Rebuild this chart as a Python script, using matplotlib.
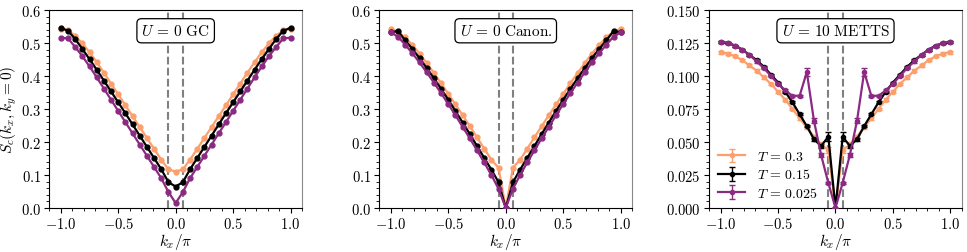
import matplotlib
matplotlib.use("Agg")
import matplotlib.pyplot as plt
import numpy as np
from matplotlib.ticker import MultipleLocator, FuncFormatter

plt.rcParams['mathtext.fontset'] = 'cm'
plt.rcParams['font.family'] = 'serif'
plt.rcParams['font.serif'] = ['DejaVu Serif']

# momentum grid k_x / pi (33 points, step 1/16)
kx = np.linspace(-1, 1, 33)

# U = 0 grand canonical
gc_T03 = [0.543, 0.538, 0.522, 0.499, 0.472, 0.442, 0.410, 0.377, 0.344, 0.311, 0.278, 0.245, 0.212, 0.179, 0.146, 0.117, 0.110,
          0.117, 0.146, 0.179, 0.212, 0.245, 0.278, 0.311, 0.344, 0.377, 0.410, 0.442, 0.472, 0.499, 0.522, 0.538, 0.543]
gc_T015 = [0.546, 0.537, 0.512, 0.482, 0.451, 0.419, 0.386, 0.353, 0.320, 0.287, 0.253, 0.219, 0.185, 0.151, 0.117, 0.078, 0.065,
           0.078, 0.117, 0.151, 0.185, 0.219, 0.253, 0.287, 0.320, 0.353, 0.386, 0.419, 0.451, 0.482, 0.512, 0.537, 0.546]
gc_T0025 = [0.516, 0.514, 0.488, 0.460, 0.429, 0.396, 0.362, 0.328, 0.294, 0.260, 0.226, 0.192, 0.158, 0.124, 0.090, 0.048, 0.015,
            0.048, 0.090, 0.124, 0.158, 0.192, 0.226, 0.260, 0.294, 0.328, 0.362, 0.396, 0.429, 0.460, 0.488, 0.514, 0.516]

# U = 0 canonical
can_T03 = [0.543, 0.534, 0.517, 0.494, 0.468, 0.439, 0.409, 0.378, 0.346, 0.314, 0.281, 0.248, 0.214, 0.180, 0.146, 0.122, 0.000,
           0.122, 0.146, 0.180, 0.214, 0.248, 0.281, 0.314, 0.346, 0.378, 0.409, 0.439, 0.468, 0.494, 0.517, 0.534, 0.543]
can_T015 = [0.533, 0.536, 0.508, 0.482, 0.454, 0.424, 0.393, 0.361, 0.328, 0.294, 0.259, 0.224, 0.188, 0.152, 0.116, 0.078, 0.000,
            0.078, 0.116, 0.152, 0.188, 0.224, 0.259, 0.294, 0.328, 0.361, 0.393, 0.424, 0.454, 0.482, 0.508, 0.536, 0.533]
can_T0025 = [0.532, 0.519, 0.495, 0.469, 0.441, 0.411, 0.380, 0.348, 0.315, 0.281, 0.246, 0.211, 0.175, 0.138, 0.100, 0.058, 0.000,
             0.058, 0.100, 0.138, 0.175, 0.211, 0.246, 0.281, 0.315, 0.348, 0.380, 0.411, 0.441, 0.469, 0.495, 0.519, 0.532]

# U = 10 METTS
met_T03 = [0.118, 0.117, 0.115, 0.112, 0.108, 0.104, 0.099, 0.094, 0.088, 0.082, 0.075, 0.068, 0.061, 0.054, 0.048, 0.044, 0.000,
           0.044, 0.048, 0.054, 0.061, 0.068, 0.075, 0.082, 0.088, 0.094, 0.099, 0.104, 0.108, 0.112, 0.115, 0.117, 0.118]
met_T015 = [0.1255, 0.125, 0.123, 0.120, 0.116, 0.112, 0.107, 0.101, 0.095, 0.088, 0.080, 0.071, 0.062, 0.052, 0.047, 0.054, 0.000,
            0.054, 0.047, 0.052, 0.062, 0.071, 0.080, 0.088, 0.095, 0.101, 0.107, 0.112, 0.116, 0.120, 0.123, 0.125, 0.1255]
met_T0025 = [0.126, 0.125, 0.123, 0.120, 0.116, 0.111, 0.106, 0.100, 0.094, 0.089, 0.085, 0.085, 0.103, 0.066, 0.040, 0.019, 0.000,
             0.019, 0.040, 0.066, 0.103, 0.085, 0.085, 0.089, 0.094, 0.100, 0.106, 0.111, 0.116, 0.120, 0.123, 0.125, 0.126]
met_err_T03 = [0.001] * 13 + [0.0015, 0.002, 0.002, 0.0] + [0.002, 0.002, 0.0015] + [0.001] * 13
met_err_T015 = [0.0008] * 13 + [0.001, 0.0015, 0.0035, 0.0] + [0.0035, 0.0015, 0.001] + [0.0008] * 13
met_err_T0025 = [0.0008] * 12 + [0.003, 0.002, 0.0015, 0.001, 0.0] + [0.001, 0.0015, 0.002, 0.003] + [0.0008] * 12

temps = ['0.3', '0.15', '0.025']
colors = ['#fd9f6c', 'black', '#8c2981']

fig = plt.figure(figsize=(9.67, 2.53), dpi=100)
positions = [[0.051, 0.174, 0.2613, 0.7826],
             [0.3922, 0.174, 0.2616, 0.7826],
             [0.7335, 0.174, 0.261, 0.7826]]
axes = [fig.add_axes(p) for p in positions]

panels = [
    ([gc_T03, gc_T015, gc_T0025], None, r'$U\,=\,0\ \mathrm{GC}$', 0.6),
    ([can_T03, can_T015, can_T0025], None, r'$U\,=\,0\ \mathrm{Canon.}$', 0.6),
    ([met_T03, met_T015, met_T0025], [met_err_T03, met_err_T015, met_err_T0025], r'$U\,=\,10\ \mathrm{METTS}$', 0.15),
]

for ax, (series, errs, title, ymax) in zip(axes, panels):
    for j, (ys, c, t) in enumerate(zip(series, colors, temps)):
        if errs is None:
            ax.plot(kx, ys, '-o', color=c, lw=1.6, ms=3.5, zorder=3)
        else:
            ax.errorbar(kx, ys, yerr=errs[j], fmt='-o', color=c, lw=1.6, ms=3.0,
                        capsize=2.5, elinewidth=1.0, zorder=3, label=r'$T\,=\,%s$' % t)
    for xv in (-1 / 16, 1 / 16):
        ax.axvline(xv, color='gray', ls='--', lw=1.5, zorder=2)
    ax.text(0.5, 0.895, title, transform=ax.transAxes, ha='center', va='center', fontsize=11,
            bbox=dict(boxstyle='round,pad=0.3', fc='white', ec='black', lw=0.9), zorder=5)
    ax.set_xlim(-1.1, 1.1)
    ax.set_ylim(0, ymax)
    ax.xaxis.set_major_locator(MultipleLocator(0.5))
    ax.xaxis.set_minor_locator(MultipleLocator(0.1))
    if ymax > 0.2:
        ax.yaxis.set_major_locator(MultipleLocator(0.1))
        ax.yaxis.set_minor_locator(MultipleLocator(0.02))
        ax.yaxis.set_major_formatter(FuncFormatter(lambda v, p: r'$%.1f$' % v))
    else:
        ax.yaxis.set_major_locator(MultipleLocator(0.025))
        ax.yaxis.set_minor_locator(MultipleLocator(0.005))
        ax.yaxis.set_major_formatter(FuncFormatter(lambda v, p: r'$%.3f$' % v))
    ax.xaxis.set_major_formatter(FuncFormatter(lambda v, p: r'$%.1f$' % v))
    ax.tick_params(which='major', length=3.5, labelsize=10.5, pad=2.5)
    ax.tick_params(which='minor', length=2)
    ax.set_xlabel(r'$k_x/\pi$', fontsize=11, labelpad=0)
    ax.spines['right'].set_color('#888888')

axes[0].set_ylabel(r'$S_c(k_x, k_y=0)$', fontsize=11, labelpad=1)
axes[2].legend(loc='lower left', frameon=False, fontsize=10, handlelength=2.0,
               borderaxespad=0.2, labelspacing=0.3)

fig.savefig('out.png', dpi=100)
